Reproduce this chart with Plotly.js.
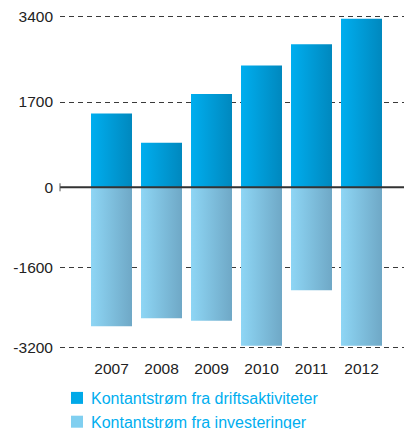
<!DOCTYPE html>
<html>
<head>
<meta charset="utf-8">
<script src="https://cdn.plot.ly/plotly-3.0.1.min.js"></script>
<style>
html,body{margin:0;padding:0;background:#fff;}
#chart{width:404px;height:429px;}
</style>
</head>
<body>
<div id="chart"></div>
<script>
const years = ['2007','2008','2009','2010','2011','2012'];
const drift = [1470, 890, 1860, 2430, 2850, 3360];
const invest = [-2770, -2610, -2660, -3160, -2050, -3160];
const yTicks = [3400, 1700, 0, -1600, -3200];
const seriesNames = ['Kontantstrøm fra driftsaktiviteter', 'Kontantstrøm fra investeringer'];

const traces = [
  {type:'bar', x: years, y: drift, name: seriesNames[0],
   marker:{color:'#00A9E8', line:{width:0}}},
  {type:'bar', x: years, y: invest, name: seriesNames[1],
   marker:{color:'#80CFF0', line:{width:0}}}
];

const layout = {
  width:404, height:429,
  margin:{l:60, r:0, t:5, b:74, autoexpand:false},
  paper_bgcolor:'#fff', plot_bgcolor:'#fff',
  barmode:'relative', bargap:0.18,
  font:{family:'Liberation Sans, Arial, sans-serif', size:15.5, color:'#222'},
  xaxis:{type:'category', range:[-1.03, 5.85], showgrid:false, zeroline:false,
         showline:false, ticks:'', tickangle:0, automargin:false,
         tickfont:{size:15.5, color:'#222'}, ticklabelstandoff:2},
  yaxis:{range:[-3343, 3634], tickvals:yTicks, ticktext:yTicks.map(String),
         showgrid:true, gridcolor:'#3a3a3a', griddash:'5px,4px', gridwidth:1,
         zeroline:false, showline:false, ticks:'', ticklabelstandoff:6, automargin:false,
         tickfont:{size:15.5, color:'#222'}},
  showlegend:true,
  legend:{xref:'container', yref:'container', x:51/404, y:1-381/429,
          xanchor:'left', yanchor:'top', orientation:'v', traceorder:'normal',
          font:{size:16, color:'#00AEEF'}, bgcolor:'rgba(0,0,0,0)', tracegroupgap:0},
  shapes:[
    {type:'line', xref:'paper', yref:'y', x0:0, x1:1, y0:0, y1:0, layer:'above',
     line:{color:'#333', width:2}},
    {type:'line', xref:'paper', yref:'y', x0:0, x1:0, y0:-80, y1:80, layer:'above',
     line:{color:'#555', width:1}}
  ]
};

Plotly.newPlot('chart', traces, layout, {staticPlot:true, displayModeBar:false}).then(function(gd){
  const svg = gd.querySelector('svg.main-svg');
  const ns = 'http://www.w3.org/2000/svg';
  let defs = svg.querySelector('defs');
  if(!defs){ defs = document.createElementNS(ns,'defs'); svg.insertBefore(defs, svg.firstChild); }
  function grad(id, c1, c2){
    const g = document.createElementNS(ns,'linearGradient');
    g.setAttribute('id', id);
    g.setAttribute('x1','0'); g.setAttribute('y1','0'); g.setAttribute('x2','1'); g.setAttribute('y2','0');
    const s1 = document.createElementNS(ns,'stop'); s1.setAttribute('offset','0'); s1.setAttribute('stop-color',c1);
    const s2 = document.createElementNS(ns,'stop'); s2.setAttribute('offset','1'); s2.setAttribute('stop-color',c2);
    g.appendChild(s1); g.appendChild(s2); defs.appendChild(g);
  }
  grad('gPos', '#00AEEF', '#0088BE');
  grad('gNeg', '#8ED6F5', '#6FA8C6');
  const groups = gd.querySelectorAll('.barlayer .trace.bars');
  groups.forEach(function(tr, i){
    tr.querySelectorAll('.point path').forEach(function(p){
      p.style.fill = i === 0 ? 'url(#gPos)' : 'url(#gNeg)';
    });
  });
  gd.querySelectorAll('.legend .legendsymbols').forEach(function(s){
    s.setAttribute('transform', 'translate(6,0)');
  });
});
</script>
</body>
</html>
